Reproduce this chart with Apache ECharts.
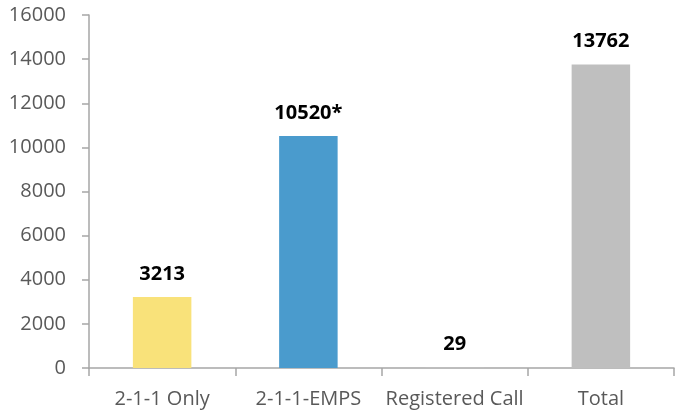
<!DOCTYPE html>
<html>
<head>
<meta charset="utf-8">
<script src="https://cdn.jsdelivr.net/npm/echarts@6/dist/echarts.min.js"></script>
<style>
  html, body { margin: 0; padding: 0; background: #fff; }
  #chart { width: 675px; height: 415px; }
</style>
</head>
<body>
<div id="chart"></div>
<script>
  // 数据
  var categories = ['2-1-1 Only', '2-1-1-EMPS', 'Registered Call', 'Total'];
  var values = [3213, 10520, 29, 13762];
  var valueLabels = ['3213', '10520*', '29', '13762'];
  var barColors = ['#F9E27A', '#4A9BCD', '#BFBFBF', '#BFBFBF'];

  var myChart = echarts.init(document.getElementById('chart'));
  myChart.setOption({
    animation: false,
    grid: { left: 89, right: 1, top: 15, bottom: 47 },
    xAxis: {
      type: 'category',
      data: categories,
      axisLine: { lineStyle: { color: '#A6A6A6', width: 1.5 } },
      axisTick: { show: true, length: 8, alignWithLabel: false, lineStyle: { color: '#A6A6A6', width: 1.5 } },
      axisLabel: { color: '#595959', fontFamily: 'Open Sans', fontSize: 20, margin: 21, interval: 0 }
    },
    yAxis: {
      type: 'value',
      min: 0,
      max: 16000,
      interval: 2000,
      axisLine: { show: true, lineStyle: { color: '#A6A6A6', width: 1.5 } },
      axisTick: { show: true, inside: false, length: 7, lineStyle: { color: '#A6A6A6', width: 1.5 } },
      splitLine: { show: false },
      axisLabel: {
        color: '#595959', fontFamily: 'Open Sans', fontSize: 20, margin: 23,
        formatter: function (v) { return String(v); }
      }
    },
    series: [{
      type: 'bar',
      barWidth: '40%',
      data: values.map(function (v, i) {
        return { value: v, itemStyle: { color: barColors[i] } };
      }),
      label: {
        show: true,
        position: 'top',
        distance: 13,
        color: '#000',
        fontFamily: 'Open Sans',
        fontWeight: 'bold',
        fontSize: 20,
        formatter: function (p) { return valueLabels[p.dataIndex]; }
      }
    }]
  });
</script>
</body>
</html>
